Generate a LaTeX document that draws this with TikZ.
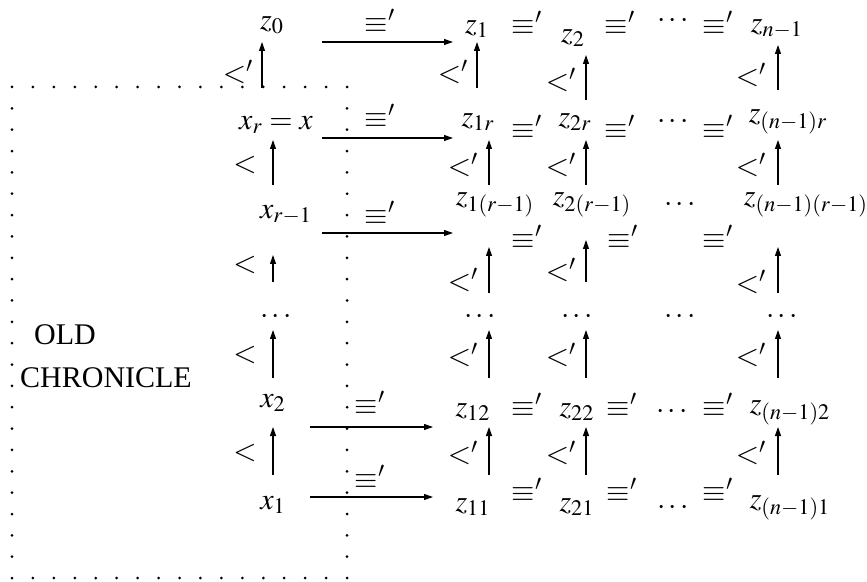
\documentclass[tikz,border=0pt]{standalone}
\usepackage{mathptmx}
\usepackage[no-math]{fontspec}
\setmainfont{Liberation Serif}
\usetikzlibrary{arrows.meta}
\tikzset{
  lab/.style={inner sep=0pt, anchor=center},
  arr/.style={line width=0.55pt, -{Triangle[length=4.5pt,width=3pt]}},
  dotm/.style={fill=black, draw=none}
}
\newcommand{\eqp}{$\equiv'$}
\newcommand{\ltp}{$<'$}
\begin{document}
\begin{tikzpicture}[x=0.5pt,y=-0.5pt, font=\fontsize{15}{18}\selectfont]
\useasboundingbox (0,0) rectangle (867,582);
% dotted box
\foreach \i in {0,...,16} {
  \fill (12+\i*20.9375,87) circle (0.75pt);
  \fill (12+\i*20.9375,578) circle (0.75pt);
}
\foreach \j in {1,...,22} {
  \fill (12,87+\j*21.35) circle (0.75pt);
  \fill (347,87+\j*21.35) circle (0.75pt);
}
\node[lab] (old) at (65,335) {OLD};
\node[lab] (chron) at (106,378) {CHRONICLE};
% row 0
\node[lab] (z0) at (272,25) {$z_0$};
\node[lab] (z1) at (477,29) {$z_1$};
\node[lab] (z2) at (573,38) {$z_2$};
\node[lab] (zn) at (777,29) {$z_{n-1}$};
\node[lab] (e00) at (380,21) {\eqp};
\node[lab] (e01) at (527,23) {\eqp};
\node[lab] (e02) at (620,23) {\eqp};
\node[lab] (d0) at (673,21) {$\cdots$};
\node[lab] (e03) at (718,23) {\eqp};
\coordinate (h0a) at (322,42); \coordinate (h0b) at (453,42);
\draw[arr] (h0a) -- (h0b);
% row r
\node[lab] (xr) at (276,125) {$x_r = x$};
\node[lab] (z1r) at (478,122) {$z_{1r}$};
\node[lab] (z2r) at (575,122) {$z_{2r}$};
\node[lab] (znr) at (788,122) {$z_{(n-1)r}$};
\node[lab] (er0) at (380,116) {\eqp};
\node[lab] (er1) at (527,127) {\eqp};
\node[lab] (er2) at (620,127) {\eqp};
\node[lab] (dr) at (673,122) {$\cdots$};
\node[lab] (er3) at (718,127) {\eqp};
\coordinate (hra) at (322,138); \coordinate (hrb) at (453,138);
\draw[arr] (hra) -- (hrb);
% row r-1
\node[lab] (xq) at (286,215) {$x_{r-1}$};
\node[lab] (z1q) at (495,205) {$z_{1(r-1)}$};
\node[lab] (z2q) at (592,205) {$z_{2(r-1)}$};
\node[lab] (znq) at (806,205) {$z_{(n-1)(r-1)}$};
\node[lab] (eq0) at (380,213) {\eqp};
\node[lab] (eq1) at (527,237) {\eqp};
\node[lab] (eq2) at (623,237) {\eqp};
\node[lab] (dq) at (680,205) {$\cdots$};
\node[lab] (eq3) at (718,237) {\eqp};
\coordinate (hqa) at (322,233); \coordinate (hqb) at (453,233);
\draw[arr] (hqa) -- (hqb);
% dots row
\node[lab] (dx) at (276,317) {$\cdots$};
\node[lab] (dz1) at (480,317) {$\cdots$};
\node[lab] (dz2) at (577,317) {$\cdots$};
\node[lab] (dzm) at (680,317) {$\cdots$};
\node[lab] (dzn) at (782,317) {$\cdots$};
% row 2
\node[lab] (x2) at (273,403) {$x_2$};
\node[lab] (z12) at (473,412) {$z_{12}$};
\node[lab] (z22) at (577,412) {$z_{22}$};
\node[lab] (zn2) at (790,413) {$z_{(n-1)2}$};
\node[lab] (e20) at (370,403) {\eqp};
\node[lab] (e21) at (527,405) {\eqp};
\node[lab] (e22) at (622,405) {\eqp};
\node[lab] (d2) at (672,412) {$\cdots$};
\node[lab] (e23) at (718,405) {\eqp};
\coordinate (h2a) at (310,427); \coordinate (h2b) at (433,427);
\draw[arr] (h2a) -- (h2b);
% row 1
\node[lab] (x1) at (273,505) {$x_1$};
\node[lab] (z11) at (473,507) {$z_{11}$};
\node[lab] (z21) at (577,507) {$z_{21}$};
\node[lab] (zn1) at (790,508) {$z_{(n-1)1}$};
\node[lab] (e10) at (370,477) {\eqp};
\node[lab] (e11) at (527,490) {\eqp};
\node[lab] (e12) at (622,490) {\eqp};
\node[lab] (d1) at (673,508) {$\cdots$};
\node[lab] (e13) at (718,490) {\eqp};
\coordinate (h1a) at (310,497); \coordinate (h1b) at (433,497);
\draw[arr] (h1a) -- (h1b);
% vertical arrows row 0
\draw[arr] (262,88) -- (262,42); \node[lab] (l0a) at (238,72) {\ltp};
\draw[arr] (477,88) -- (477,42); \node[lab] (l0b) at (453,72) {\ltp};
\draw[arr] (586,100) -- (586,55); \node[lab] (l0c) at (561,80) {\ltp};
\draw[arr] (778,90) -- (778,45); \node[lab] (l0d) at (751,75) {\ltp};
% vertical arrows row r
\draw[arr] (273,185) -- (273,140); \node[lab] (lra) at (245,165) {$<$};
\draw[arr] (489,185) -- (489,140); \node[lab] (lrb) at (463,165) {\ltp};
\draw[arr] (586,185) -- (586,140); \node[lab] (lrc) at (561,165) {\ltp};
\draw[arr] (778,185) -- (778,140); \node[lab] (lrd) at (751,165) {\ltp};
% vertical arrows row r-1
\draw[arr] (273,282) -- (273,255); \node[lab] (lqa) at (245,265) {$<$};
\draw[arr] (489,293) -- (489,247); \node[lab] (lqb) at (463,280) {\ltp};
\draw[arr] (586,282) -- (586,240); \node[lab] (lqc) at (561,270) {\ltp};
\draw[arr] (778,293) -- (778,247); \node[lab] (lqd) at (751,282) {\ltp};
% vertical arrows dots row
\draw[arr] (273,378) -- (273,330); \node[lab] (lda) at (245,355) {$<$};
\draw[arr] (489,378) -- (489,330); \node[lab] (ldb) at (463,355) {\ltp};
\draw[arr] (586,378) -- (586,330); \node[lab] (ldc) at (561,355) {\ltp};
\draw[arr] (778,378) -- (778,330); \node[lab] (ldd) at (751,355) {\ltp};
% vertical arrows row 2
\draw[arr] (273,475) -- (273,427); \node[lab] (l2a) at (245,453) {$<$};
\draw[arr] (489,475) -- (489,427); \node[lab] (l2b) at (463,453) {\ltp};
\draw[arr] (586,475) -- (586,427); \node[lab] (l2c) at (561,453) {\ltp};
\draw[arr] (778,475) -- (778,427); \node[lab] (l2d) at (751,453) {\ltp};
\end{tikzpicture}
\end{document}
